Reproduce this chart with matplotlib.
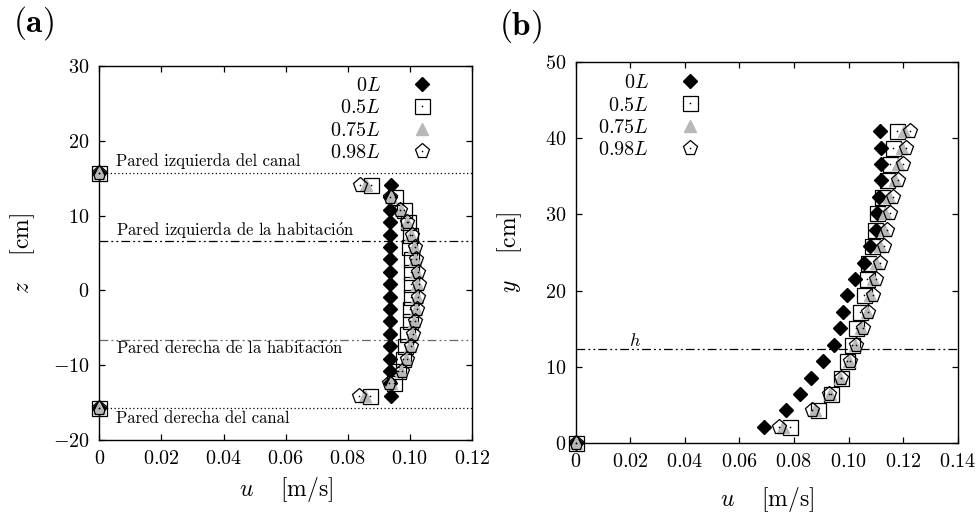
import matplotlib
matplotlib.use('Agg')
import matplotlib.pyplot as plt
from matplotlib.ticker import FuncFormatter, MultipleLocator

# panel (a): transversal profile, z [cm] vs u [m/s]
z_a = [15.7, 14.1, 12.44, 10.78, 9.12, 7.46, 5.80, 4.15, 2.49, 0.83,
       -0.83, -2.49, -4.15, -5.80, -7.46, -9.12, -10.78, -12.44, -14.1, -15.7]
u_a_0 = [0, 0.0938, 0.0937, 0.0936, 0.0936, 0.0936, 0.0936, 0.0936, 0.0936, 0.0936,
         0.0936, 0.0936, 0.0936, 0.0936, 0.0936, 0.0936, 0.0936, 0.0937, 0.0938, 0]
u_a_05 = [0, 0.0875, 0.0952, 0.0982, 0.0993, 0.1000, 0.0998, 0.1003, 0.1003, 0.1005,
          0.1004, 0.1002, 0.1000, 0.0992, 0.0985, 0.0978, 0.0963, 0.0948, 0.0873, 0]
u_a_075 = [0, 0.0858, 0.0940, 0.0970, 0.0990, 0.1003, 0.1012, 0.1017, 0.1021, 0.1024,
           0.1023, 0.1019, 0.1013, 0.1007, 0.1001, 0.0989, 0.0970, 0.0938, 0.0856, 0]
u_a_098 = [0, 0.0838, 0.0935, 0.0968, 0.0991, 0.1006, 0.1016, 0.1021, 0.1025, 0.1028,
           0.1027, 0.1023, 0.1017, 0.1011, 0.1005, 0.0992, 0.0974, 0.0934, 0.0836, 0]

# panel (b): vertical profile, y [cm] vs u [m/s]
y_b = [0, 2.15, 4.30, 6.46, 8.61, 10.76, 12.92, 15.07, 17.22, 19.38,
       21.53, 23.68, 25.83, 27.99, 30.14, 32.29, 34.45, 36.60, 38.75, 40.91]
u_b_0 = [0, 0.0690, 0.0771, 0.0821, 0.0861, 0.0907, 0.0947, 0.0968, 0.0980, 0.0996,
         0.1022, 0.1056, 0.1079, 0.1100, 0.1105, 0.1112, 0.1118, 0.1118, 0.1118, 0.1116]
u_b_05 = [0, 0.0785, 0.0890, 0.0936, 0.0972, 0.0993, 0.1011, 0.1028, 0.1042, 0.1055,
          0.1067, 0.1072, 0.1085, 0.1097, 0.1103, 0.1121, 0.1142, 0.1152, 0.1164, 0.1176]
u_b_075 = [0, 0.0760, 0.0877, 0.0932, 0.0970, 0.1000, 0.1022, 0.1045, 0.1066, 0.1078,
           0.1088, 0.1100, 0.1115, 0.1130, 0.1135, 0.1150, 0.1170, 0.1182, 0.1195, 0.1205]
u_b_098 = [0, 0.0746, 0.0865, 0.0930, 0.0973, 0.1004, 0.1026, 0.1052, 0.1072, 0.1089,
           0.1102, 0.1115, 0.1130, 0.1142, 0.1152, 0.1164, 0.1180, 0.1200, 0.1210, 0.1225]

series_labels = [r'$0L$', r'$0.5L$', r'$0.75L$', r'$0.98L$']

# reference lines
walls_canal = [15.7, -15.7]
walls_room = [6.6, -6.6]
h_level = 12.3

plt.rcParams['mathtext.fontset'] = 'cm'
plt.rcParams['font.family'] = ['cmr10', 'DejaVu Serif']

DASHDOTDOT = (0, (7, 2.5, 1.5, 2.5, 1.5, 2.5))
ACC_O = r'$\mathrm{\acute{o}}$'


def fmt_u(v, pos):
    if abs(v) < 1e-9:
        return r'$0$'
    return r'$%.2f$' % v


def fmt_int(v, pos):
    return r'$%d$' % round(v)


def setup_axes(ax, xmax, ymin, ymax, ylab):
    ax.set_xlim(0, xmax)
    ax.set_ylim(ymin, ymax)
    ax.xaxis.set_major_locator(MultipleLocator(0.02))
    ax.yaxis.set_major_locator(MultipleLocator(10))
    ax.xaxis.set_major_formatter(FuncFormatter(fmt_u))
    ax.yaxis.set_major_formatter(FuncFormatter(fmt_int))
    ax.tick_params(direction='in', top=True, right=True, length=4, width=0.9,
                   labelsize=14.5, pad=7)
    for s in ax.spines.values():
        s.set_linewidth(1.0)
    ax.set_xlabel(r'$u\quad\ [\mathrm{m/s}]$', fontsize=17)
    ax.set_ylabel(ylab, fontsize=17)


def draw_profiles(ax, coord, u0, u05, u075, u098):
    h0, = ax.plot(u0, coord, ls='none', marker='D', ms=7.2, mfc='k', mec='k',
                  clip_on=False, zorder=3)
    hsq, = ax.plot(u05, coord, ls='none', marker='s', ms=10.8, mfc='none',
                   mec='k', mew=0.9, clip_on=False, zorder=4)
    htri, = ax.plot(u075, coord, ls='none', marker='^', ms=9, mfc='#b8b8b8',
                    mec='#b8b8b8', clip_on=False, zorder=5)
    hpen, = ax.plot(u098, coord, ls='none', marker='p', ms=11, mfc='none',
                    mec='k', mew=0.9, clip_on=False, zorder=6)
    hd1, = ax.plot(u05, coord, ls='none', marker='o', ms=1.2, mfc='k', mec='k',
                   mew=0, clip_on=False, zorder=7)
    hd2, = ax.plot(u098, coord, ls='none', marker='o', ms=1.2, mfc='k', mec='k',
                   mew=0, clip_on=False, zorder=7)
    return [h0, (hsq, hd1), htri, (hpen, hd2)]


def add_legend(ax, handles, anchor):
    ax.legend(handles, series_labels, loc='upper right', bbox_to_anchor=anchor,
              frameon=False, markerfirst=False, numpoints=1, fontsize=14.5,
              handlelength=1.4, handletextpad=1.33, labelspacing=0.2,
              borderpad=0, borderaxespad=0)


fig = plt.figure(figsize=(9.79, 5.12), dpi=100)
ax_a = fig.add_axes([0.1014, 0.1406, 0.3807, 0.7305])
ax_b = fig.add_axes([0.5880, 0.1342, 0.3902, 0.7453])

# ---- panel (a)
setup_axes(ax_a, 0.12, -20, 30, r'$z\quad\ [\mathrm{cm}]$')
for zw in walls_canal:
    ax_a.axhline(zw, color='k', lw=0.9, ls=(0, (1, 2)), zorder=1)
ax_a.axhline(walls_room[0], color='k', lw=0.9, ls=DASHDOTDOT, zorder=1)
ax_a.axhline(walls_room[1], color='0.4', lw=0.9, ls=DASHDOTDOT, zorder=1)
ax_a.text(0.0053, 17.3, 'Pared izquierda del canal', fontsize=12, va='center')
ax_a.text(0.0053, 8.0, 'Pared izquierda de la habitaci' + ACC_O + 'n',
          fontsize=12, va='center')
ax_a.text(0.0053, -7.75, 'Pared derecha de la habitaci' + ACC_O + 'n',
          fontsize=12, va='center')
ax_a.text(0.0053, -17.1, 'Pared derecha del canal', fontsize=12, va='center')
handles = draw_profiles(ax_a, z_a, u_a_0, u_a_05, u_a_075, u_a_098)
add_legend(ax_a, handles, (0.9026, 0.970))
ax_a.xaxis.set_label_coords(0.5, -0.094)
ax_a.yaxis.set_label_coords(-0.167, 0.5)

# ---- panel (b)
setup_axes(ax_b, 0.14, 0, 50, r'$y\quad\ [\mathrm{cm}]$')
ax_b.axhline(h_level, color='k', lw=0.9, ls=DASHDOTDOT, zorder=1)
ax_b.text(0.0217, h_level + 1.2, r'$h$', fontsize=13, ha='center', va='center')
handles = draw_profiles(ax_b, y_b, u_b_0, u_b_05, u_b_075, u_b_098)
add_legend(ax_b, handles, (0.336, 0.967))
ax_b.xaxis.set_label_coords(0.5, -0.109)
ax_b.yaxis.set_label_coords(-0.135, 0.5)

fig.text(0.013, 0.955, r'$\mathbf{(a)}$', fontsize=24, va='center')
fig.text(0.510, 0.95, r'$\mathbf{(b)}$', fontsize=24, va='center')

fig.savefig('out.png', dpi=100)
